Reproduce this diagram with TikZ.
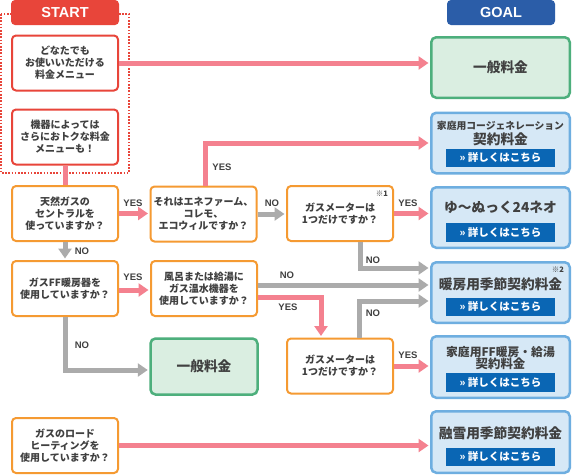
\documentclass[tikz,border=0pt]{standalone}
\usepackage{fontspec}
\setmainfont{Noto Sans CJK JP}
\newfontfamily\latf{Liberation Sans}
\usetikzlibrary{arrows.meta}
\definecolor{sred}{HTML}{E8453A}
\definecolor{qorange}{HTML}{F59A32}
\definecolor{ggreen}{HTML}{4DAF7C}
\definecolor{gfill}{HTML}{DAEEE1}
\definecolor{gblue}{HTML}{6EAEE0}
\definecolor{bfill}{HTML}{D6E8F6}
\definecolor{btn}{HTML}{0A66B4}
\definecolor{goaltab}{HTML}{2B5DA8}
\definecolor{pinkl}{HTML}{F4818F}
\definecolor{grayl}{HTML}{ABABAB}
\definecolor{txt}{HTML}{404040}
\begin{document}
\begin{tikzpicture}[x=1pt,y=-1pt,
  qbox/.style={draw=qorange, line width=2pt, rounded corners=4pt, fill=white,
    minimum width=106pt, minimum height=55pt, align=center, inner sep=0pt,
    text=txt, font=\bfseries\fontsize{10}{12}\selectfont},
  sbox/.style={qbox, draw=sred},
  genbox/.style={draw=ggreen, fill=gfill, line width=2.5pt, rounded corners=5pt,
    minimum width=107pt, minimum height=56pt, text=txt, inner sep=0pt,
    font=\bfseries\fontsize{13.7}{15}\selectfont},
  goalbox/.style={draw=gblue, fill=bfill, line width=2.5pt, rounded corners=5pt,
    minimum width=138.5pt, minimum height=60.5pt, inner sep=0pt},
  gtitle/.style={text=txt, align=center, inner sep=0pt,
    font=\bfseries\fontsize{13.7}{15}\selectfont},
  button/.style={fill=btn, text=white, minimum width=109pt, minimum height=18.5pt,
    inner sep=0pt, font=\bfseries\fontsize{10.5}{12}\selectfont},
  tab/.style={rounded corners=4pt, minimum width=108pt, minimum height=25pt,
    inner sep=0pt, text=white, font=\latf\bfseries\fontsize{14.5}{16}\selectfont},
  lbl/.style={text=txt, inner sep=0pt, font=\latf\bfseries\fontsize{9.5}{11}\selectfont},
  note/.style={text=txt, inner sep=0pt, font=\bfseries\fontsize{7.5}{8}\selectfont},
  pk/.style={draw=pinkl, line width=5pt, -{Triangle[length=10pt,width=13pt]}, shorten >=1.5pt},
  pkline/.style={draw=pinkl, line width=5pt},
  gy/.style={draw=grayl, line width=5pt, -{Triangle[length=10pt,width=13pt]}, shorten >=1.5pt}
]
\fill[white] (0,0) rectangle (574,475);
\useasboundingbox (0,0) rectangle (574,475);

% start frame
\draw[sred, line width=1.6pt, dash pattern=on 1.6pt off 1.6pt] (1,14) rectangle (129,173);
\node[tab, fill=sred] (start) at (65,12.5) {START};
\node[tab, fill=goaltab] (goal) at (501,12.5) {GOAL};

% start boxes
\node[sbox] (box1) at (65,63) {どなたでも\\お使いいただける\\料金メニュー};
\node[sbox] (box2) at (65,137) {機器によっては\\さらにおトクな料金\\メニューも！};

% questions
\node[qbox] (tennen) at (65,213.5) {天然ガスの\\セントラルを\\使っていますか？};
\node[qbox] (sore) at (203.5,214) {それはエネファーム、\\コレモ、\\エコウィルですか？};
\node[qbox] (meter1) at (340,213.5) {ガスメーターは\\1つだけですか？};
\node[qbox] (ff) at (65,288.5) {ガスFF暖房器を\\使用していますか？};
\node[qbox] (furo) at (204,288.5) {風呂または給湯に\\ガス温水機器を\\使用していますか？};
\node[genbox] (midgen) at (204,366.5) {一般料金};
\node[qbox] (meter2) at (340,366) {ガスメーターは\\1つだけですか？};
\node[qbox] (road) at (65,445.5) {ガスのロード\\ヒーティングを\\使用していますか？};
\node[note] (n1) at (382,194) {※1};

% goals
\node[genbox, minimum width=138.5pt, minimum height=60.5pt] (goal1) at (500.5,67.5) {一般料金};

\node[goalbox] (goal2) at (500.5,143) {};
\node[gtitle] (t2) at (500.5,133) {{\fontsize{9.8}{12.5}\selectfont 家庭用コージェネレーション}\\契約料金};
\node[button] (b2) at (500.5,158) {» 詳しくはこちら};

\node[goalbox] (goal3) at (500.5,217.5) {};
\node[gtitle] (t3) at (500.5,207) {ゆ〜ぬっく24ネオ};
\node[button] (b3) at (500.5,232.5) {» 詳しくはこちら};

\node[goalbox] (goal4) at (500.5,292.5) {};
\node[gtitle] (t4) at (500.5,284) {暖房用季節契約料金};
\node[button] (b4) at (500.5,307) {» 詳しくはこちら};
\node[note] (n2) at (558,270) {※2};

\node[goalbox, minimum height=61.5pt] (goal5) at (500.5,367) {};
\node[gtitle, font=\bfseries\fontsize{12.4}{12.5}\selectfont] (t5) at (500.5,358) {{\fontsize{11.8}{12.5}\selectfont 家庭用FF暖房・給湯}\\契約料金};
\node[button] (b5) at (500.5,382.5) {» 詳しくはこちら};

\node[goalbox, minimum height=61.5pt] (goal6) at (500.5,442) {};
\node[gtitle] (t6) at (500.5,433) {融雪用季節契約料金};
\node[button] (b6) at (500.5,457) {» 詳しくはこちら};

% connectors
\draw[pk] (box1.east) -- (box1.east -| goal1.west);
\draw[pkline] (box2.south) -- (tennen.north);
\draw[pk] (tennen.east) -- (tennen.east -| sore.west);
\draw[gy] (tennen.south) -- (ff.north);
\draw[gy] (sore.east) -- (sore.east -| meter1.west);
\draw[pk] ([xshift=1.5pt]sore.north) |- (goal2.west);
\draw[pk] (meter1.east) -- (meter1.east -| goal3.west);
\draw[gy] ([xshift=20pt]meter1.south) |- ([yshift=24.5pt]goal4.west);
\draw[pk] ([yshift=-1.5pt]ff.east) -- ([yshift=-1.5pt]ff.east -| furo.west);
\draw[gy] (ff.south) |- ([yshift=-3.5pt]midgen.west);
\draw[gy] ([yshift=3.5pt]furo.east) -- ([yshift=3.5pt]furo.east -| goal4.west);
\draw[pk] ([yshift=-8.5pt]furo.east) -| ([xshift=-19pt]meter2.north);
\draw[gy] ([xshift=19pt]meter2.north) |- ([yshift=-8.5pt]goal4.west);
\draw[pk] (meter2.east) -- (meter2.east -| goal5.west);
\draw[pk] (road.east) -- (road.east -| goal6.west);

% labels
\node[lbl] (l1) at (133,203) {YES};
\node[lbl] (l2) at (82,251) {NO};
\node[lbl] (l3) at (272,203) {NO};
\node[lbl] (l4) at (222,167) {YES};
\node[lbl] (l5) at (408,203) {YES};
\node[lbl] (l6) at (373,260) {NO};
\node[lbl] (l7) at (133,277) {YES};
\node[lbl] (l8) at (82,345) {NO};
\node[lbl] (l9) at (287,275) {NO};
\node[lbl] (l10) at (288,307) {YES};
\node[lbl] (l11) at (373,313) {NO};
\node[lbl] (l12) at (408,355) {YES};
\end{tikzpicture}
\end{document}
